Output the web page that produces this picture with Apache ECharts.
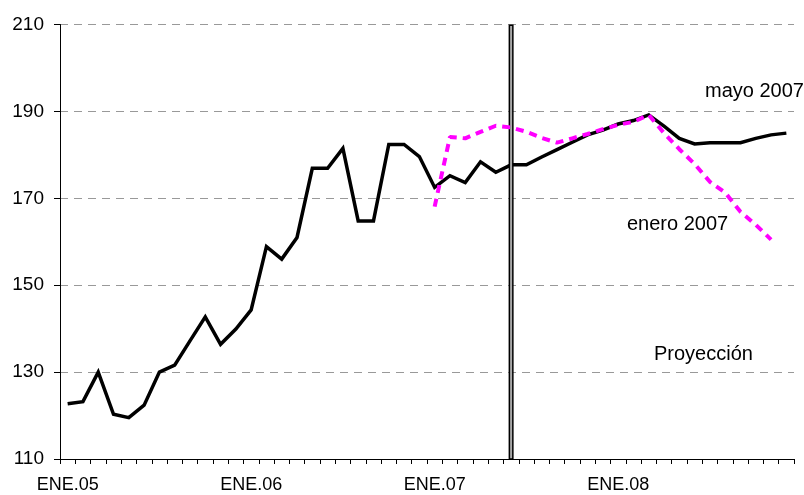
<!DOCTYPE html>
<html>
<head>
<meta charset="utf-8">
<script src="https://cdn.jsdelivr.net/npm/echarts@6/dist/echarts.min.js"></script>
<style>
html,body{margin:0;padding:0;background:#fff;}
#chart{width:804px;height:495px;}
</style>
</head>
<body>
<div id="chart"></div>
<script>
// Months Jan 2005 .. Dec 2008
var years = ['05','06','07','08'];
var months = ['ENE','FEB','MAR','ABR','MAY','JUN','JUL','AGO','SEP','OCT','NOV','DIC'];
var categories = [];
years.forEach(function(y){ months.forEach(function(m){ categories.push(m + '.' + y); }); });

var yTicks = [110, 130, 150, 170, 190, 210];

// Actual + projection made in May 2007 (black)
var mayo2007 = [
  122.7, 123.2, 130.0, 120.3, 119.5, 122.4, 130.0, 131.6, 137.2, 142.7, 136.4, 139.9,
  144.3, 158.9, 156.0, 161.0, 176.9, 176.9, 181.5, 164.8, 164.8, 182.4, 182.4, 179.6,
  172.5, 175.2, 173.6, 178.4, 176.0, 177.7, 177.7, 179.5, 181.2, 182.9, 184.6, 185.7,
  187.1, 187.9, 189.2, 186.6, 183.8, 182.5, 182.8, 182.8, 182.8, 183.8, 184.6, 185.0
];

// Projection made in January 2007 (magenta dashed)
var enero2007 = [
  null, null, null, null, null, null, null, null, null, null, null, null,
  null, null, null, null, null, null, null, null, null, null, null, null,
  168.1, 184.1, 183.8, 185.3, 186.7, 186.3, 185.3, 183.9, 182.8, 183.8, 184.8, 185.9,
  186.9, 187.6, 189.2, 185.0, 181.3, 177.9, 173.8, 171.3, 166.9, 163.9, 160.5, null
];

// Vertical separator marking the start of the projection
var cutoffIndex = 29;
var cutoffValue = 210;
var cutoffBar = categories.map(function(c, i){ return i === cutoffIndex ? cutoffValue : null; });

var chart = echarts.init(document.getElementById('chart'));
var font = '"Liberation Sans", Arial, sans-serif';

chart.setOption({
  backgroundColor: '#ffffff',
  animation: false,
  grid: { left: 60, right: 10, top: 24.5, bottom: 36 },
  xAxis: {
    type: 'category',
    data: categories,
    boundaryGap: true,
    axisLine: { lineStyle: { color: '#000', width: 1 } },
    axisTick: { show: true, interval: 0, length: 5, lineStyle: { color: '#000' } },
    axisLabel: {
      interval: 11,
      margin: 17,
      color: '#000',
      fontFamily: font,
      fontSize: 18,
      formatter: function(v){ return v; }
    },
    splitLine: { show: false }
  },
  yAxis: {
    type: 'value',
    min: yTicks[0],
    max: yTicks[yTicks.length - 1],
    interval: 20,
    axisLine: { show: true, lineStyle: { color: '#000', width: 1 } },
    axisTick: { show: true, length: 6, lineStyle: { color: '#000' } },
    axisLabel: { color: '#000', fontFamily: font, fontSize: 19, margin: 16 },
    splitLine: { show: true, lineStyle: { color: '#999', width: 1, type: [8, 6] } }
  },
  series: [
    {
      name: 'mayo 2007',
      type: 'line',
      data: mayo2007,
      symbol: 'none',
      z: 2,
      lineStyle: { color: '#000', width: 3.5, join: 'miter' }
    },
    {
      name: 'corte',
      type: 'bar',
      data: cutoffBar,
      barWidth: 5,
      z: 3,
      itemStyle: { color: '#a8a8a8', borderColor: '#000', borderWidth: 1.5 }
    },
    {
      name: 'enero 2007',
      type: 'line',
      data: enero2007,
      symbol: 'none',
      z: 4,
      lineStyle: { color: '#ff00ff', width: 4, type: [8, 6] }
    }
  ],
  graphic: [
    { type: 'text', left: 705, top: 81, style: { text: 'mayo 2007', fill: '#000', font: '20px ' + font } },
    { type: 'text', left: 627, top: 214, style: { text: 'enero 2007', fill: '#000', font: '20px ' + font } },
    { type: 'text', left: 654, top: 344, style: { text: 'Proyección', fill: '#000', font: '20px ' + font } }
  ]
});
</script>
</body>
</html>
